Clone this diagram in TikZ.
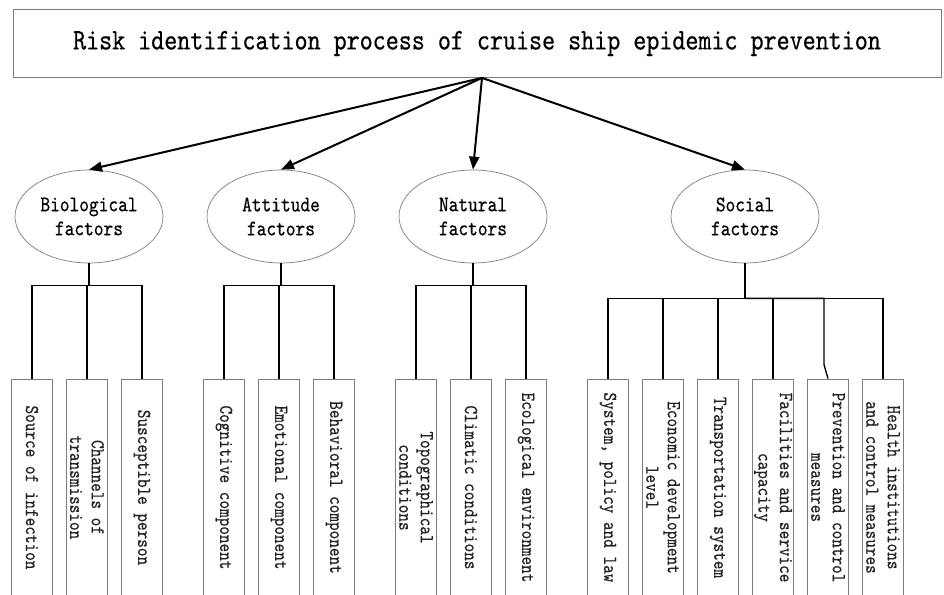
\documentclass[tikz,border=0pt]{standalone}
\usepackage{fontspec}
\usepackage{tikz}
\usetikzlibrary{arrows.meta, shapes.geometric, positioning}
\newfontfamily\diagfont{lmmono10-regular}[Extension=.otf, FakeStretch=0.83, FakeBold=0.4]
\definecolor{edgegray}{RGB}{125,125,125}
\definecolor{inkgray}{RGB}{35,35,35}

\begin{document}
\begin{tikzpicture}[
    x=1pt, y=-1pt,
    titlebox/.style={rectangle, draw=edgegray, line width=0.8pt, minimum width=928pt, minimum height=68pt, font=\diagfont\fontsize{29.9}{32}\selectfont},
    factor/.style={ellipse, draw=edgegray, line width=0.7pt, minimum width=148pt, minimum height=93pt, inner sep=0pt, align=center, font=\diagfont\fontsize{22.3}{24}\selectfont},
    item/.style={rectangle, draw=edgegray, line width=0.8pt, rotate=-90, minimum width=217pt, minimum height=41pt, inner sep=1pt, align=center, text=inkgray, font=\diagfont\fontsize{19.8}{21.5}\selectfont},
    arrow/.style={-{Triangle[length=13pt, width=10pt]}, line width=2pt},
    link/.style={line width=1.4pt}
]
\useasboundingbox (0,0) rectangle (944,594);
\fill[white] (0,0) rectangle (944,594);
\clip (0,0) rectangle (944,594);
\node[titlebox] (title) at (477, 43.5) {Risk identification process of cruise ship epidemic prevention};
\coordinate (hub) at ([xshift=5pt]title.south);
\node[factor] (bio) at (89, 216.5) {Biological\\factors};
\node[factor] (att) at (281, 216.5) {Attitude\\factors};
\node[factor] (nat) at (473, 216.5) {Natural\\factors};
\node[factor] (soc) at (745, 216.5) {Social\\factors};
\foreach \f in {bio, att, nat, soc} {
    \draw[arrow] (hub) -- (\f.north);
}
\foreach \i/\name in {1/Source of infection, 2/{Channels of\\transmission}, 3/Susceptible person} {
    \pgfmathsetmacro{\xpos}{32 + (\i-1)*55}
    \node[item] (bio\i) at (\xpos, 487.5) {\name};
    \draw[link] (bio.south) -- ++(0,22) -| (bio\i.west);
}
\foreach \i/\name in {1/Cognitive component, 2/Emotional component, 3/Behavioral component} {
    \pgfmathsetmacro{\xpos}{224 + (\i-1)*55}
    \node[item] (att\i) at (\xpos, 487.5) {\name};
    \draw[link] (att.south) -- ++(0,22) -| (att\i.west);
}
\foreach \i/\name in {1/{Topographical\\conditions}, 2/Climatic conditions, 3/Ecological environment} {
    \pgfmathsetmacro{\xpos}{416 + (\i-1)*55}
    \node[item] (nat\i) at (\xpos, 487.5) {\name};
    \draw[link] (nat.south) -- ++(0,22) -| (nat\i.west);
}
\foreach \i/\name in {1/{System, policy and law}, 2/{Economic development\\level}, 3/Transportation system, 4/{Facilities and service\\capacity}, 5/{Prevention and control\\measures}, 6/{Health institutions\\and control measures}} {
    \pgfmathsetmacro{\xpos}{608 + (\i-1)*55}
    \node[item] (soc\i) at (\xpos, 487.5) {\name};
}
\foreach \i in {1,2,3,4,6} {
    \draw[link] (soc.south) -- ++(0,35) -| (soc\i.west);
}
\draw[link] (soc.south) -- ++(0,35) -| ([shift={(-4,-14)}]soc5.west) -- (soc5.west);
\end{tikzpicture}
\end{document}
